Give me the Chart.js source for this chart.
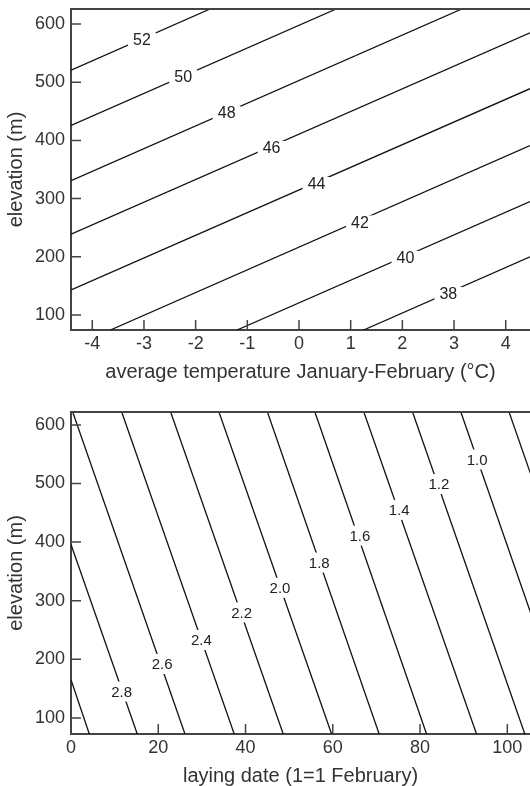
<!DOCTYPE html>
<html>
<head>
<meta charset="utf-8">
<script src="https://cdn.jsdelivr.net/npm/chart.js@4.4.0/dist/chart.umd.min.js"></script>
<style>
  body { margin: 0; background: #fff; }
  #top { width: 530px; height: 382px; position: relative; }
  #bottom { width: 530px; height: 404px; position: relative; }
</style>
</head>
<body>
<div id="top"><canvas id="tempChart"></canvas></div>
<div id="bottom"><canvas id="dateChart"></canvas></div>
<script>
// top panel: temperature vs elevation contours
const tempTicks = [-4, -3, -2, -1, 0, 1, 2, 3, 4];
const elevTicks = [100, 200, 300, 400, 500, 600];
const tempLevels = ['52', '50', '48', '46', '44', '42', '40', '38'];
const tempStartT = [-4.41, -4.41, -4.41, -4.41, -4.41, -3.65, -1.20, 1.25];
const tempStartElev = [521, 426, 331, 239, 143, 74, 74, 74];
const tempEndT = [-1.72, 0.72, 3.15, 4.47, 4.47, 4.47, 4.47, 4.47];
const tempEndElev = [626, 626, 626, 585, 489, 391, 295, 200];
const tempLabelT = [-3.04, -2.24, -1.40, -0.53, 0.34, 1.18, 2.06, 2.89];
const tempLabelElev = [574, 510, 447, 387, 325, 259, 198, 136];

// bottom panel: laying date vs elevation contours
const dayTicks = [0, 20, 40, 60, 80, 100];
const dayStart = [0, 0, 0.39, 11.62, 22.84, 33.91, 45.02, 55.90, 67.12, 78.28, 89.35, 100.4];
const dayStartElev = [165, 396, 622, 622, 622, 622, 622, 622, 622, 622, 622, 622];
const dayEnd = [4.19, 15.19, 26.12, 37.41, 48.64, 59.73, 70.63, 81.49, 92.94, 104.01, 115.0, 126.1];
const dayEndElev = [72.5, 72.5, 72.5, 72.5, 72.5, 72.5, 72.5, 72.5, 72.5, 72.5, 72.5, 72.5];
const dayLabels = ['2.8', '2.6', '2.4', '2.2', '2.0', '1.8', '1.6', '1.4', '1.2', '1.0'];
const dayLabelX = [11.6, 20.9, 29.9, 39.1, 47.9, 56.9, 66.2, 75.2, 84.3, 93.1];
const dayLabelElev = [145, 192, 233, 280, 322, 365, 411, 455, 499, 541];

Chart.defaults.font.family = '"Liberation Sans", Arial, sans-serif';
Chart.defaults.color = '#333';
const axisColor = '#444';

// top border and inward tick marks
const framePlugin = {
  id: 'frame',
  afterDraw(chart) {
    const ctx = chart.ctx, a = chart.chartArea;
    const xs = chart.scales.x, ys = chart.scales.y;
    ctx.save();
    ctx.strokeStyle = axisColor;
    ctx.lineWidth = 2;
    ctx.beginPath();
    ctx.moveTo(a.left - 1, a.top);
    ctx.lineTo(a.right, a.top);
    ctx.stroke();
    ctx.lineWidth = 1.5;
    ctx.beginPath();
    xs.ticks.forEach(t => {
      const px = xs.getPixelForValue(t.value);
      ctx.moveTo(px, a.bottom);
      ctx.lineTo(px, a.bottom - 10);
    });
    ys.ticks.forEach(t => {
      const py = ys.getPixelForValue(t.value);
      ctx.moveTo(a.left, py);
      ctx.lineTo(a.left + 10, py);
    });
    ctx.stroke();
    ctx.restore();
  }
};

// contour labels with a white gap in the line
const labelPlugin = {
  id: 'contourLabels',
  afterDatasetsDraw(chart, args, opts) {
    const ctx = chart.ctx;
    const xs = chart.scales.x, ys = chart.scales.y;
    ctx.save();
    ctx.font = opts.size + 'px "Liberation Sans", Arial, sans-serif';
    ctx.textAlign = 'center';
    ctx.textBaseline = 'middle';
    opts.text.forEach((t, i) => {
      const px = xs.getPixelForValue(opts.x[i]);
      const py = ys.getPixelForValue(opts.y[i]);
      const w = ctx.measureText(t).width + opts.padX * 2;
      ctx.fillStyle = '#fff';
      ctx.fillRect(px - w / 2, py - opts.h / 2, w, opts.h);
      ctx.fillStyle = '#222';
      ctx.fillText(t, px, py + 1);
    });
    ctx.restore();
  }
};

function contourSets(sx, sy, ex, ey) {
  return sx.map((v, i) => ({
    data: [{x: v, y: sy[i]}, {x: ex[i], y: ey[i]}],
    showLine: true,
    pointRadius: 0,
    borderColor: '#111',
    borderWidth: 1.3
  }));
}

function noPad(s) {
  s.paddingTop = 0; s.paddingBottom = 0; s.paddingLeft = 0; s.paddingRight = 0;
}

function axes(xMin, xMax, xTicks, yMin, yMax, xTitle) {
  return {
    x: {
      type: 'linear', min: xMin, max: xMax,
      afterBuildTicks: s => { s.ticks = xTicks.map(v => ({value: v})); },
      afterFit: s => { s.height = 52; noPad(s); },
      grid: { display: false, drawTicks: false },
      border: { display: true, color: axisColor, width: 2 },
      ticks: { padding: 3, font: { size: 18 }, color: '#333', callback: v => String(v) },
      title: { display: true, text: xTitle, font: { size: 20, lineHeight: 1 }, padding: 0, color: '#333' }
    },
    y: {
      type: 'linear', min: yMin, max: yMax,
      afterBuildTicks: s => { s.ticks = elevTicks.map(v => ({value: v})); },
      afterFit: s => { s.width = 71; noPad(s); },
      grid: { display: false, drawTicks: false },
      border: { display: true, color: axisColor, width: 2 },
      ticks: { padding: 6, font: { size: 18 }, color: '#333', callback: v => String(v) },
      title: { display: true, text: 'elevation (m)', font: { size: 20, lineHeight: 1 }, padding: { top: 6, bottom: 0 }, color: '#333' }
    }
  };
}

new Chart(document.getElementById('tempChart'), {
  type: 'scatter',
  data: { datasets: contourSets(tempStartT, tempStartElev, tempEndT, tempEndElev) },
  options: {
    responsive: true,
    maintainAspectRatio: false,
    animation: false,
    layout: { padding: { top: 9, right: 0, left: 0, bottom: 0 } },
    scales: axes(-4.412, 4.47, tempTicks, 74, 626, 'average temperature January-February (°C)'),
    plugins: {
      legend: { display: false },
      tooltip: { enabled: false },
      contourLabels: { text: tempLevels, x: tempLabelT, y: tempLabelElev, size: 16, padX: 5, h: 14 }
    }
  },
  plugins: [framePlugin, labelPlugin]
});

new Chart(document.getElementById('dateChart'), {
  type: 'scatter',
  data: { datasets: contourSets(dayStart, dayStartElev, dayEnd, dayEndElev) },
  options: {
    responsive: true,
    maintainAspectRatio: false,
    animation: false,
    layout: { padding: { top: 30, right: 0, left: 0, bottom: 0 } },
    scales: axes(0, 105.2, dayTicks, 72.5, 622, 'laying date (1=1 February)'),
    plugins: {
      legend: { display: false },
      tooltip: { enabled: false },
      contourLabels: { text: dayLabels, x: dayLabelX, y: dayLabelElev, size: 15, padX: 1, h: 20 }
    }
  },
  plugins: [framePlugin, labelPlugin]
});
</script>
</body>
</html>
